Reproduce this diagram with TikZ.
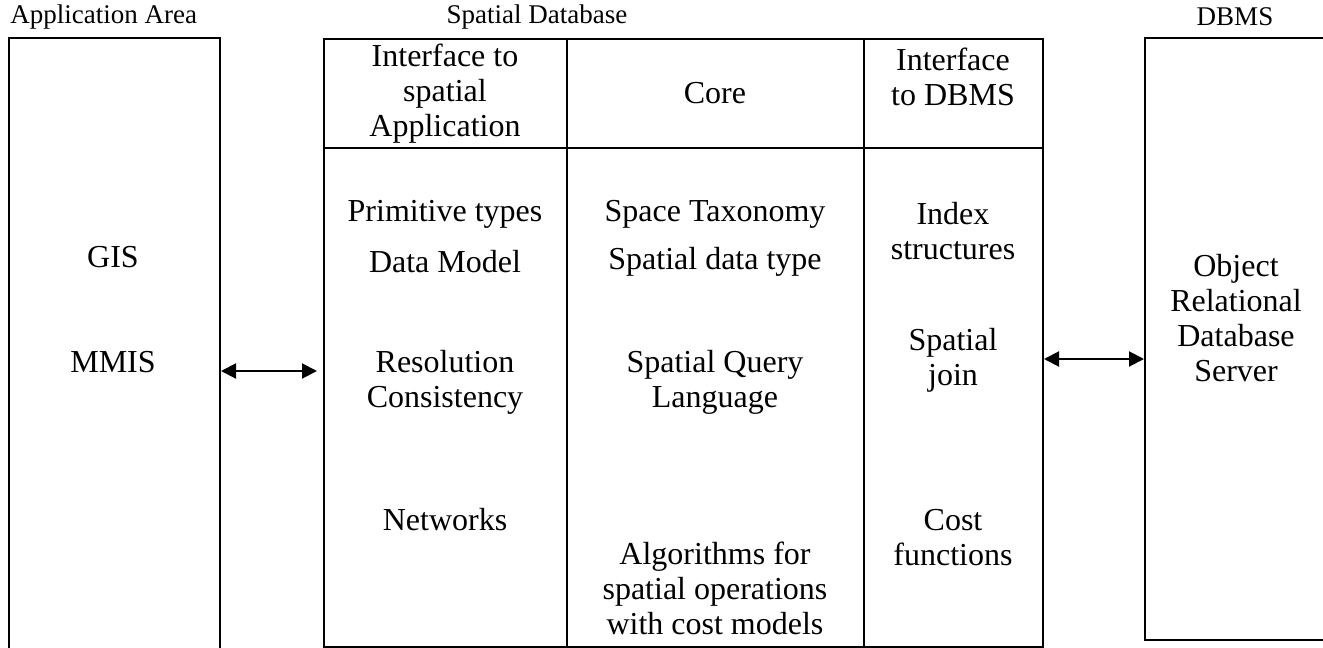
\documentclass[tikz,border=0pt]{standalone}
\usepackage{fontspec}
\setmainfont{Liberation Serif}
\usetikzlibrary{arrows.meta,positioning}
\begin{document}
\begin{tikzpicture}[x=0.5pt, y=-0.5pt,
    box/.style = {draw, line width=1pt, inner sep=0pt, anchor=north west},
    txt/.style = {align=center, font=\fontsize{16}{17.5}\selectfont},
    head/.style = {inner sep=0pt, font=\fontsize{13.5}{15}\selectfont},
    dbl/.style = {line width=1pt, {Triangle[length=7.5pt,width=7.5pt]}-{Triangle[length=7.5pt,width=7.5pt]}}]
    \useasboundingbox (0,0) rectangle (1323,648);
    % boxes
    \node[box, minimum width=105.5pt, minimum height=331.5pt] (app) at (8,37) {};
    \node[box, minimum width=359.5pt, minimum height=304pt] (sdb) at (323,38) {};
    \node[box, minimum width=128pt, minimum height=301pt] (dbms) at (1144,37) {};
    \draw[line width=1pt] (567,38) -- (567,646);
    \draw[line width=1pt] (864,38) -- (864,646);
    \draw[line width=1pt] (323,148) -- (1042,148);
    % titles
    \node[head, anchor=west] (aa) at (10,17) {Application Area};
    \node[head] (sd) at (537,17) {Spatial Database};
    \node[head] (db) at (1235,17) {DBMS};
    % column heads
    \node[txt] (h1) at (445,94) {Interface to\\spatial\\Application};
    \node[txt] (h2) at (715,93) {Core};
    \node[txt] (h3) at (953,77) {Interface\\to DBMS};
    % application area
    \node[txt] (gis) at (113,257) {GIS};
    \node[txt] (mmis) at (113,362) {MMIS};
    % interface to application
    \node[txt] (prim) at (445,214) {Primitive types};
    \node[txt] (model) at (445,262) {Data Model};
    \node[txt] (res) at (445,382) {Resolution\\Consistency};
    \node[txt] (net) at (445,520) {Networks};
    % core
    \node[txt] (tax) at (715,214) {Space Taxonomy};
    \node[txt] (sdt) at (715,262) {Spatial data type};
    \node[txt] (sql) at (715,382) {Spatial Query\\Language};
    \node[txt] (alg) at (715,588) {Algorithms for\\spatial operations\\with cost models};
    % interface to dbms
    \node[txt] (idx) at (953,231) {Index\\structures};
    \node[txt] (join) at (953,360) {Spatial\\join};
    \node[txt] (cost) at (953,538) {Cost\\functions};
    % dbms
    \node[txt] (ords) at (1236,318) {Object\\Relational\\Database\\Server};
    % links
    \coordinate (la) at (0,371);
    \coordinate (ra) at (0,359);
    \draw[dbl, shorten >=3pt] (app.east |- la) -- (sdb.west |- la);
    \draw[dbl] (sdb.east |- ra) -- (dbms.west |- ra);
\end{tikzpicture}
\end{document}
